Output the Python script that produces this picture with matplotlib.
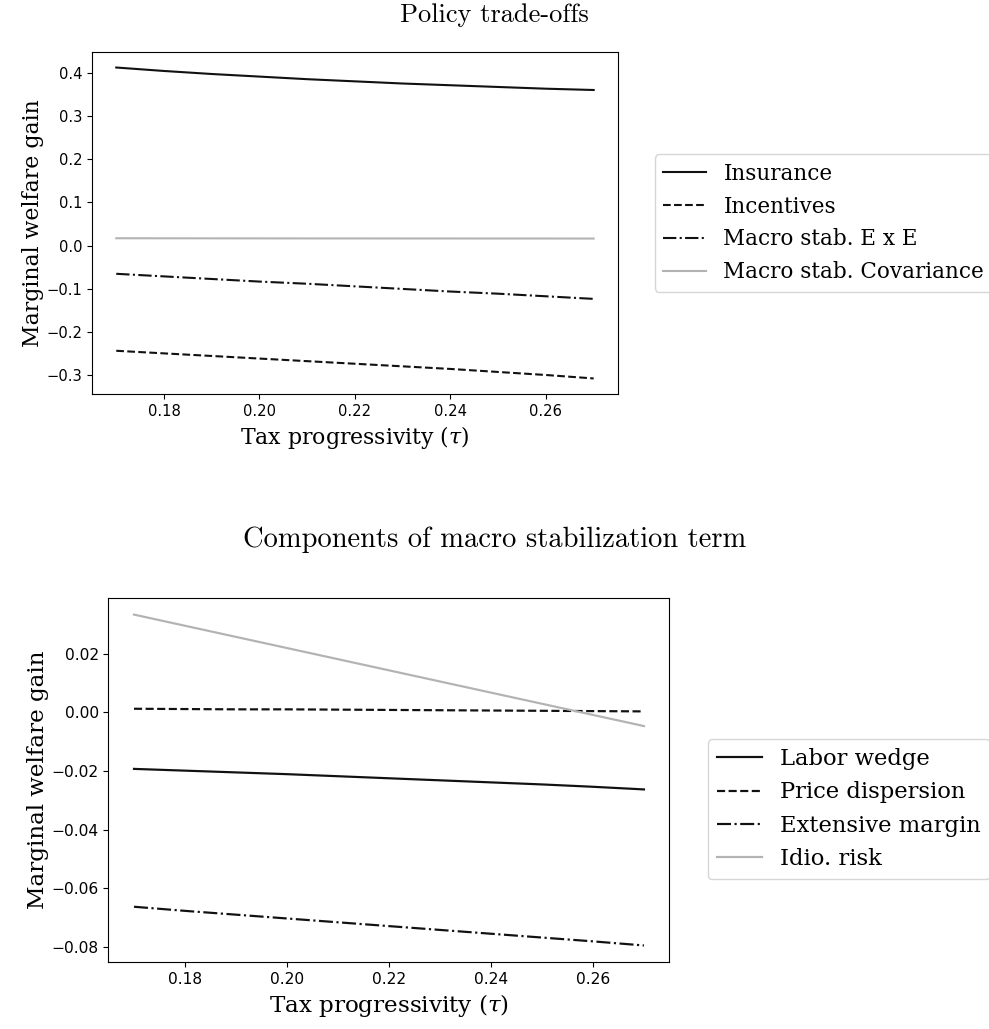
import matplotlib
matplotlib.use("Agg")
import matplotlib.pyplot as plt

# tax progressivity grid
tau = [0.17, 0.18, 0.19, 0.20, 0.21, 0.22, 0.23, 0.24, 0.25, 0.26, 0.27]

# Policy trade-offs
insurance = [0.412, 0.404, 0.397, 0.391, 0.385, 0.380, 0.375, 0.371, 0.367, 0.363, 0.360]
incentives = [-0.243, -0.249, -0.255, -0.261, -0.267, -0.273, -0.279, -0.285, -0.292, -0.299, -0.307]
macro_exe = [-0.065, -0.071, -0.077, -0.083, -0.088, -0.094, -0.100, -0.106, -0.111, -0.117, -0.123]
macro_cov = [0.0172, 0.0171, 0.0170, 0.0169, 0.0168, 0.0168, 0.0167, 0.0167, 0.0166, 0.0166, 0.0165]

# Components of macro stabilization term
labor_wedge = [-0.0193, -0.0199, -0.0205, -0.0211, -0.0218, -0.0225, -0.0232, -0.0239, -0.0246, -0.0254, -0.0263]
price_disp = [0.0012, 0.0011, 0.0010, 0.0010, 0.0009, 0.0008, 0.0007, 0.0006, 0.0005, 0.0004, 0.0003]
ext_margin = [-0.0663, -0.0677, -0.0690, -0.0703, -0.0716, -0.0729, -0.0742, -0.0755, -0.0768, -0.0781, -0.0795]
idio_risk = [0.0333, 0.0295, 0.0257, 0.0219, 0.0181, 0.0143, 0.0105, 0.0067, 0.0029, -0.0009, -0.0047]

top_labels = ['Insurance', 'Incentives', 'Macro stab. E x E', 'Macro stab. Covariance']
bottom_labels = ['Labor wedge', 'Price dispersion', 'Extensive margin', 'Idio. risk']

styles = [('-', '#111111'), ('--', '#111111'), ('-.', '#111111'), ('-', '#b3b3b3')]

plt.rcParams['mathtext.fontset'] = 'dejavuserif'
fig = plt.figure(figsize=(9.89, 10.29), dpi=100)

def make_panel(rect, series, labels, scale, legend_anchor):
    ax = fig.add_axes(rect)
    for (ls, col), ys, lab in zip(styles, series, labels):
        ax.plot(tau, ys, linestyle=ls, color=col, linewidth=1.5 * scale, label=lab)
    ax.set_xticks([0.18, 0.20, 0.22, 0.24, 0.26])
    ax.tick_params(labelsize=10.6 * scale)
    ax.set_xlabel(r'Tax progressivity ($\tau$)', family='DejaVu Serif', fontsize=15.8 * scale)
    ax.set_ylabel('Marginal welfare gain', family='DejaVu Serif', fontsize=15.8 * scale,
                  labelpad=2)
    ax.legend(loc='center left', bbox_to_anchor=legend_anchor,
              prop={'family': 'DejaVu Serif', 'size': 15.5 * scale})
    return ax

make_panel([0.0934, 0.6171, 0.5310, 0.3324],
           [insurance, incentives, macro_exe, macro_cov], top_labels, 1.0, (1.05, 0.5))
ax2 = make_panel([0.1097, 0.0651, 0.5672, 0.3537],
                 [labor_wedge, price_disp, ext_margin, idio_risk], bottom_labels, 1.05,
                 (1.048, 0.42))
ax2.set_yticks([0.02, 0.00, -0.02, -0.04, -0.06, -0.08])

fig.text(0.5, 1 - 15 / 1029, 'Policy trade-offs', family='cmr10', fontsize=19,
         ha='center', va='center')
fig.text(0.5, 1 - 540 / 1029, 'Components of macro stabilization term', family='cmr10',
         fontsize=20.5, ha='center', va='center')

plt.savefig('out.png', dpi=100)
